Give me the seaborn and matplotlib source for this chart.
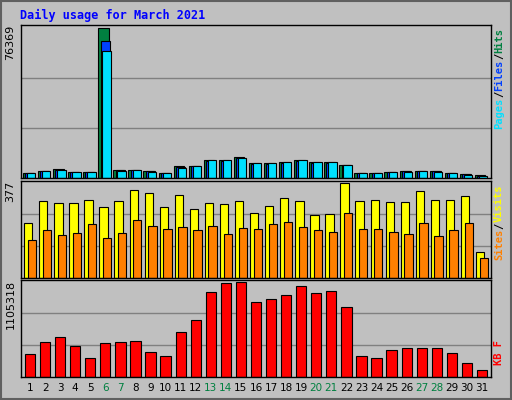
import numpy as np
import pandas as pd
import seaborn as sns
import matplotlib.pyplot as plt
from matplotlib.patches import Rectangle

days = list(range(1, 32))
weekend = [6, 7, 13, 14, 20, 21, 27, 28]
hits = [2750, 3780, 4820, 3270, 3270, 76369, 4300, 4130, 3780, 2750, 6020, 6360, 8940, 8940,
        10660, 7400, 7400, 7910, 8940, 7910, 7910, 6880, 2750, 2750, 3270, 3780, 3780, 3780,
        2750, 2240, 1380]
files = [2600, 3600, 4300, 3100, 3000, 70000, 3900, 3900, 3400, 2600, 5500, 6200, 8700, 8700,
         10000, 7200, 7200, 7700, 8700, 7700, 7700, 6700, 2600, 2600, 3100, 3400, 3600, 3400,
         2600, 1900, 1000]
pages = [2750, 3780, 4300, 3270, 3100, 64500, 3780, 4130, 3270, 2750, 5330, 6360, 8940, 8940,
         9980, 7400, 7400, 7910, 8940, 7910, 7910, 6880, 2750, 2750, 3270, 3270, 3780, 3270,
         2750, 1720, 860]
visits = [218, 303, 295, 295, 308, 279, 303, 348, 336, 279, 328, 271, 295, 291, 303, 259, 283,
          316, 303, 250, 254, 377, 303, 308, 299, 299, 344, 308, 308, 324, 103]
sites = [152, 189, 169, 177, 214, 157, 177, 230, 206, 193, 201, 189, 206, 173, 197, 193, 214,
         222, 201, 189, 181, 259, 193, 193, 181, 173, 218, 165, 189, 218, 79]
kbytes = [270300, 403400, 463900, 355000, 221900, 391300, 403400, 415500, 294500, 246100,
          524400, 657500, 984300, 1093200, 1105318, 875400, 899600, 948000, 1056900, 972200,
          996400, 814900, 246100, 221900, 318700, 330800, 330800, 330800, 282400, 161400, 76600]

bg = '#C0C0C0'
sns.set_theme(style='white')
fig = plt.figure(figsize=(5.12, 4.0), dpi=100, facecolor=bg)
fig.patches.append(Rectangle((0.002, 0.002), 0.996, 0.996, transform=fig.transFigure,
                             fill=False, edgecolor='#606060', lw=1.5))
fig.text(20 / 512, 1 - 15 / 400, 'Daily usage for March 2021', color='#0000FF',
         fontsize=8.5, fontweight='bold', family='DejaVu Sans Mono', va='center')

L, W = 21 / 512, 470 / 512
ax1 = fig.add_axes([L, 0.555, W, 0.382])
ax2 = fig.add_axes([L, 0.305, W, 0.243])
ax3 = fig.add_axes([L, 0.0575, W, 0.243])

d = np.array(days)
def bars(ax, x, y, color, width):
    sns.barplot(x=x, y=y, ax=ax, native_scale=True, color=color, width=width,
                edgecolor='black', linewidth=0.8, saturation=1)

bars(ax1, d - 0.12, hits, '#008040', 0.7)
bars(ax1, d - 0.02, files, '#0040FF', 0.6)
bars(ax1, d + 0.08, pages, '#00E0FF', 0.55)
bars(ax2, d - 0.12, visits, '#FFFF00', 0.55)
bars(ax2, d + 0.12, sites, '#FF8000', 0.55)
bars(ax3, d, kbytes, '#FF0000', 0.68)

for ax, top in [(ax1, max(hits)), (ax2, max(visits)), (ax3, max(kbytes))]:
    ax.set_facecolor(bg)
    ax.set_xlim(0.4, 31.6)
    ax.set_ylim(0, top * 1.02)
    for g in (top / 3, top * 2 / 3):
        ax.axhline(g, color='#808080', lw=1, zorder=0)
    ax.set_yticks([])
    ax.set_xticks([])
    ax.set_xlabel('')
    ax.set_ylabel('')
    for s in ax.spines.values():
        s.set_color('black')
        s.set_linewidth(1)
    ax.text(-0.012, 1.0, f'{top}', transform=ax.transAxes, rotation=90, ha='right', va='top',
            fontsize=8, color='black')

ax3.set_xticks(days)
ax3.set_xticklabels([str(x) for x in days], fontsize=7.5)
ax3.tick_params(axis='x', length=0, pad=4)
for lbl, dd in zip(ax3.get_xticklabels(), days):
    lbl.set_color('#008040' if dd in weekend else 'black')

def side(parts, ytop):
    y = ytop
    for txt, col in parts:
        fig.text(499 / 512, 1 - y / 400, txt, rotation=90, color=col, fontsize=7.5,
                 fontweight='bold', family='DejaVu Sans Mono', ha='center', va='top')
        y += len(txt) * 6.3

side([('Hits', '#008040'), ('/', 'black'), ('Files', '#0040FF'), ('/', 'black'),
      ('Pages', '#00E0FF')], 28)
side([('Visits', '#FFFF00'), ('/', 'black'), ('Sites', '#FF8000')], 185)
side([('KB F', '#FF0000')], 340)

fig.savefig('out.png', dpi=100, facecolor=bg)
